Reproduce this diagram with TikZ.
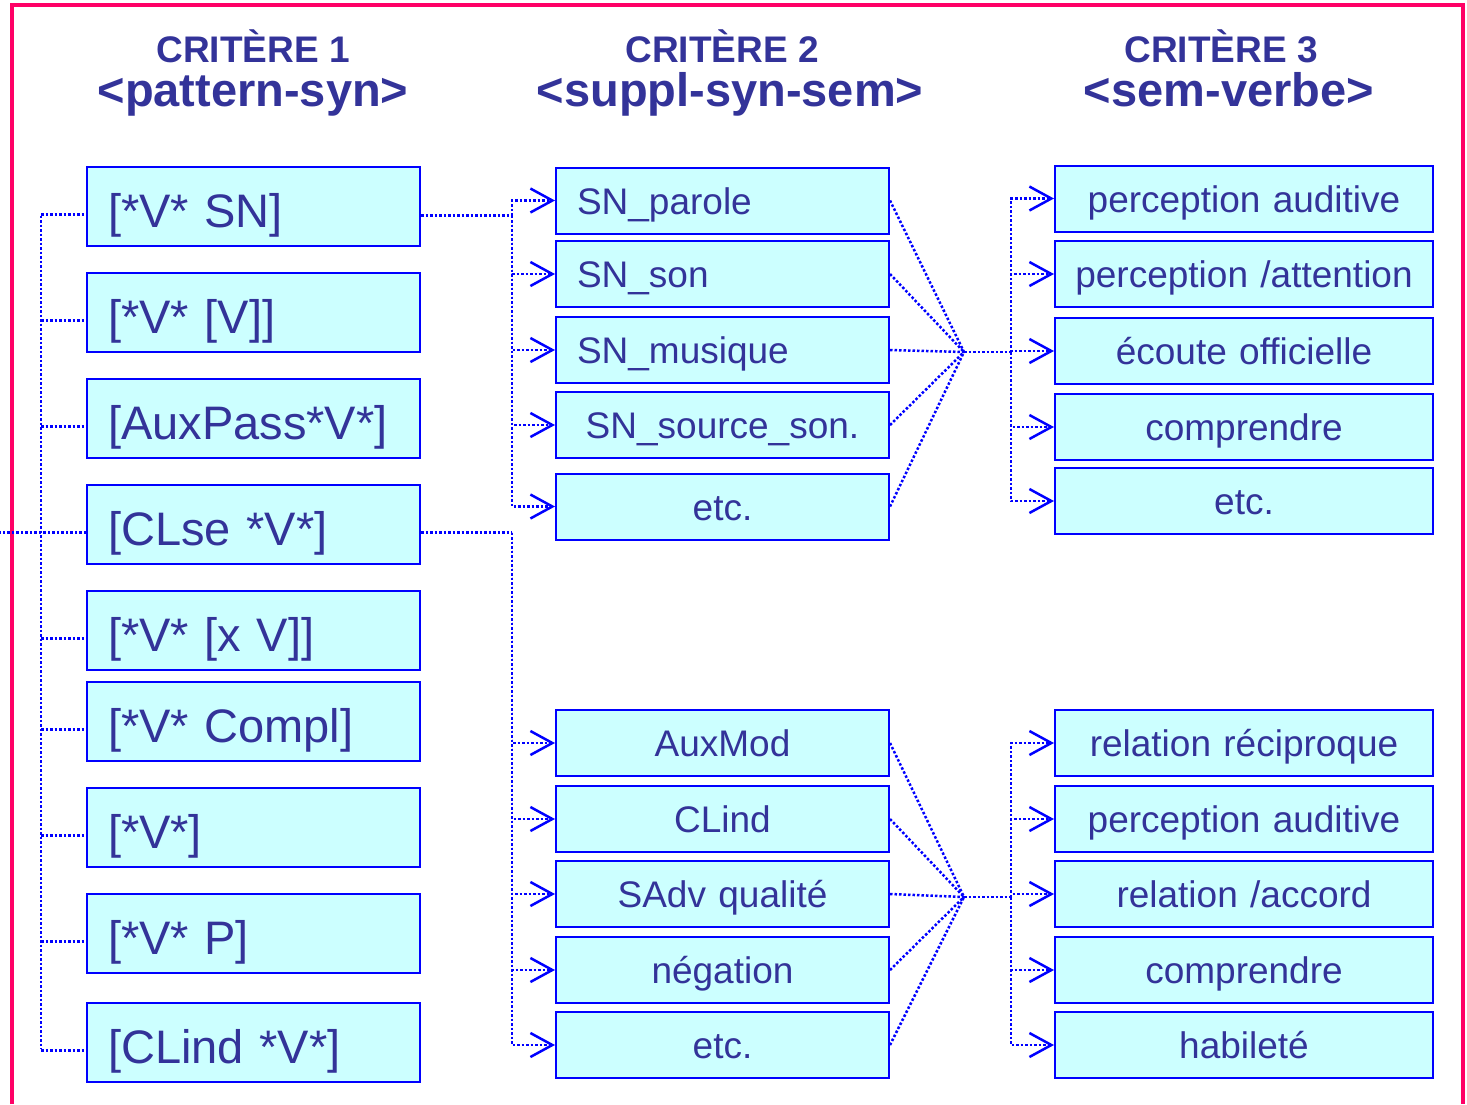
\documentclass[tikz,border=0pt]{standalone}
\usepackage{fontspec}
\setmainfont{Liberation Sans}
\usetikzlibrary{arrows.meta}
\definecolor{cadre}{RGB}{255,0,102}
\definecolor{trait}{RGB}{0,0,255}
\definecolor{fond}{RGB}{204,255,255}
\definecolor{encre}{RGB}{51,51,153}

\begin{document}
\begin{tikzpicture}[x=1pt, y=-1pt,
                    box/.style={draw=trait, fill=fond, line width=2pt, text=encre,
                                inner xsep=21pt, inner ysep=0pt, text depth=0pt},
                    patbox/.style={box, minimum height=79pt, text width=291pt, align=left,
                                   text height=41pt, font=\fontsize{47}{50}\selectfont},
                    supbox/.style={box, minimum height=66pt, text width=291pt, align=center,
                                   text height=27pt, font=\fontsize{37}{40}\selectfont},
                    sembox/.style={supbox, inner xsep=5pt, text width=368pt},
                    crit/.style={text=encre, anchor=base, font=\bfseries\fontsize{37}{40}\selectfont},
                    balise/.style={text=encre, anchor=base, font=\bfseries\fontsize{47}{50}\selectfont},
                    link/.style={draw=trait, line width=2.5pt, dash pattern=on 2.5pt off 2pt},
                    arr/.style={link, -{Straight Barb[length=22pt, width=24pt, line width=2.5pt]}}]
                \useasboundingbox (0,0) rectangle (1467,1104);
                \draw [cadre, line width=4pt] (12,1104) -- (12,5) -- (1463,5) -- (1463,1104);

                \node [crit] (h1) at (253,62) {CRITÈRE 1};
                \node [balise] (g1) at (253,106) {<pattern-syn>};
                \node [crit] (h2) at (722,62) {CRITÈRE 2};
                \node [balise] (g2) at (730,106) {<suppl-syn-sem>};
                \node [crit] (h3) at (1221,62) {CRITÈRE 3};
                \node [balise] (g3) at (1229,106) {<sem-verbe>};

                \node [patbox] (a1) at (253.5,206.5) {[*V* SN]};
                \node [patbox] (a2) at (253.5,312.5) {[*V* [V]]};
                \node [patbox] (a3) at (253.5,418.5) {[AuxPass*V*]};
                \node [patbox] (a4) at (253.5,524.5) {[CLse *V*]};
                \node [patbox] (a5) at (253.5,630.5) {[*V* [x V]]};
                \node [patbox] (a6) at (253.5,721.5) {[*V* Compl]};
                \node [patbox] (a7) at (253.5,827.5) {[*V*]};
                \node [patbox] (a8) at (253.5,933.5) {[*V* P]};
                \node [patbox] (a9) at (253.5,1042.5) {[CLind *V*]};

                \node [supbox, align=left] (b1) at (722.5,200.5) {SN\_parole};
                \node [supbox, align=left] (b2) at (722.5,274) {SN\_son};
                \node [supbox, align=left] (b3) at (722.5,350) {SN\_musique};
                \node [supbox] (b4) at (722.5,425) {SN\_source\_son.};
                \node [supbox] (b5) at (722.5,506.5) {etc.};

                \node [supbox] (d1) at (722.5,743) {AuxMod};
                \node [supbox] (d2) at (722.5,819) {CLind};
                \node [supbox] (d3) at (722.5,894) {SAdv qualité};
                \node [supbox] (d4) at (722.5,970) {négation};
                \node [supbox] (d5) at (722.5,1045) {etc.};

                \node [sembox] (c1) at (1244,198.5) {perception auditive};
                \node [sembox] (c2) at (1244,274) {perception /attention};
                \node [sembox] (c3) at (1244,351) {écoute officielle};
                \node [sembox] (c4) at (1244,427) {comprendre};
                \node [sembox] (c5) at (1244,501) {etc.};

                \node [sembox] (e1) at (1244,743) {relation réciproque};
                \node [sembox] (e2) at (1244,819) {perception auditive};
                \node [sembox] (e3) at (1244,894) {relation /accord};
                \node [sembox] (e4) at (1244,970) {comprendre};
                \node [sembox] (e5) at (1244,1045) {habileté};

                \path ([yshift=-9pt]a1.west) ++(-45,0) coordinate (l1);
                \path ([yshift=-6pt]a9.west) ++(-45,0) coordinate (l9);
                \draw [link] (l1) -- (l9);
                \foreach \i in {1,2,3,5,6,7,8,9}
                    \draw [link] ([yshift=-8pt]a\i.west -| l1) -- ([yshift=-8pt]a\i.west);
                \draw [link] ([yshift=-8pt]a4.west) -- ++(-87,0) coordinate (in);

                \draw [link] ([yshift=-9pt]a1.east) -- ++(91,0) coordinate (j1);
                \draw [link] ([yshift=-8pt]a4.east) -- ++(91,0) coordinate (j2);
                \foreach \i in {1,...,5} {
                    \draw [arr] (j1) |- (b\i.west);
                    \draw [arr] (j2) |- (d\i.west);
                }

                \path (b3.east) ++(74,2) coordinate (m1);
                \path (d3.east) ++(74,3) coordinate (m2);
                \draw [link] (m1) -- ++(47,0) coordinate (k1);
                \draw [link] (m2) -- ++(47,0) coordinate (k2);
                \foreach \i in {1,...,5} {
                    \draw [link] (b\i.east) -- (m1);
                    \draw [link] (d\i.east) -- (m2);
                    \draw [arr] (k1) |- (c\i.west);
                    \draw [arr] (k2) |- (e\i.west);
                }
            \end{tikzpicture}
\end{document}
